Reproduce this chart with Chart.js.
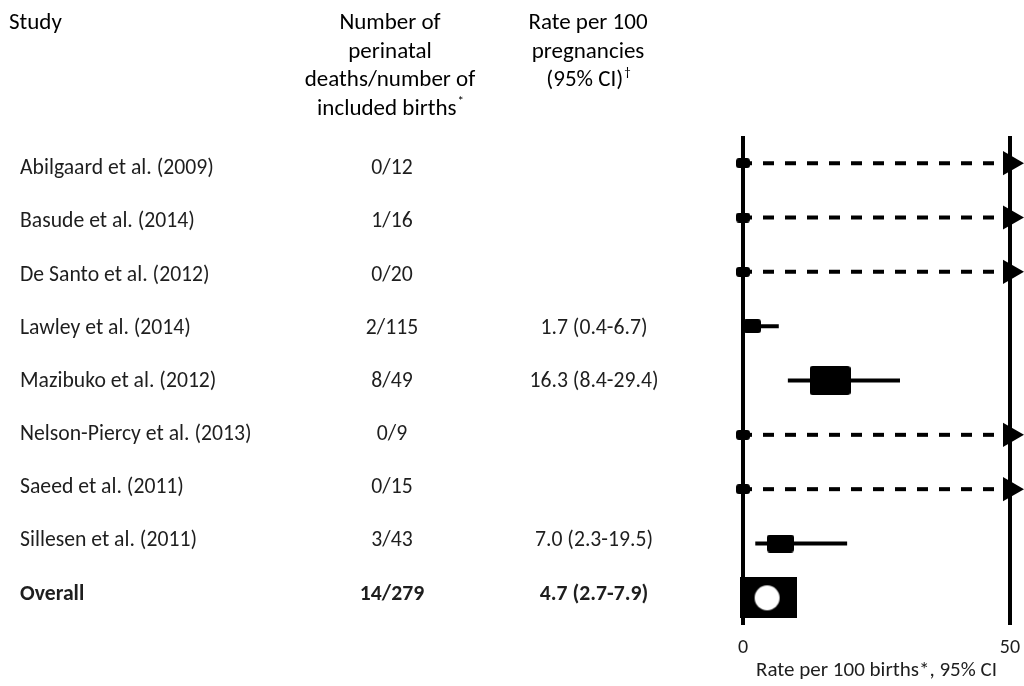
<!DOCTYPE html>
<html>
<head>
<meta charset="utf-8">
<script src="https://cdn.jsdelivr.net/npm/chart.js@4.4.1/dist/chart.umd.min.js"></script>
<style>
  html, body { margin: 0; padding: 0; background: #fff; }
  #wrap { width: 1024px; height: 686px; position: relative; }
</style>
</head>
<body>
<div id="wrap"><canvas id="forest"></canvas></div>
<script>
// ---- study data -------------------------------------------------------
const studies = [
  'Abilgaard et al. (2009)', 'Basude et al. (2014)', 'De Santo et al. (2012)',
  'Lawley et al. (2014)', 'Mazibuko et al. (2012)', 'Nelson-Piercy et al. (2013)',
  'Saeed et al. (2011)', 'Sillesen et al. (2011)', 'Overall'
];
const deaths = [0, 1, 0, 2, 8, 0, 0, 3, 14];
const births = [12, 16, 20, 115, 49, 9, 15, 43, 279];
// rate per 100 and its 95% CI; null rate = no estimate reported
const rate   = [null, null, null, 1.7, 16.3, null, null, 7.0, 4.7];
const ciLow  = [0, 0, 0, 0.4, 8.4, 0, 0, 2.3, 2.7];
// null upper bound = interval runs past the end of the axis
const ciHigh = [null, null, null, 6.7, 29.4, null, null, 19.5, 7.9];
const xTicks = [0, 50];
const axisTitle = 'Rate per 100 births*, 95% CI';
const overallIndex = studies.length - 1;

// ---- styling ----------------------------------------------------------
const FONT = 'Carlito, Lato, "Open Sans", sans-serif';
const INK = '#000';
const TEXT = '#1e1e1e';
const markerBox = { study: { 3: [18, 14], 4: [41, 29], 7: [27, 18] }, overall: [57, 41] };

function roundRectPath(c, x, y, w, h, r) {
  c.beginPath();
  c.moveTo(x + r, y);
  c.lineTo(x + w - r, y);
  c.quadraticCurveTo(x + w, y, x + w, y + r);
  c.lineTo(x + w, y + h - r);
  c.quadraticCurveTo(x + w, y + h, x + w - r, y + h);
  c.lineTo(x + r, y + h);
  c.quadraticCurveTo(x, y + h, x, y + h - r);
  c.lineTo(x, y + r);
  c.quadraticCurveTo(x, y, x + r, y);
  c.closePath();
}
function boxMarker(w, h, r) {
  const cv = document.createElement('canvas');
  cv.width = w; cv.height = h;
  const c = cv.getContext('2d');
  c.fillStyle = INK;
  roundRectPath(c, 0, 0, w, h, r);
  c.fill();
  return cv;
}
function overallMarker(w, h) {
  const cv = document.createElement('canvas');
  cv.width = w; cv.height = h;
  const c = cv.getContext('2d');
  c.fillStyle = INK;
  c.fillRect(0, 0, w, h);
  c.fillStyle = '#fff';
  c.beginPath();
  c.arc(w / 2 - 1, h / 2, 12.5, 0, Math.PI * 2);
  c.fill();
  return cv;
}
const startDot = boxMarker(14, 10, 3);

// ---- datasets ---------------------------------------------------------
const axisMax = xTicks[xTicks.length - 1];
const datasets = [];

// point estimates (boxes) drawn on top
const estPoints = [], estStyles = [];
rate.forEach((r, i) => {
  if (r === null) return;
  estPoints.push({ x: r, y: studies[i] });
  if (i === overallIndex) {
    estStyles.push(overallMarker(...markerBox.overall));
  } else {
    const [w, h] = markerBox.study[i];
    estStyles.push(boxMarker(w, h, 3));
  }
});
datasets.push({
  data: estPoints, showLine: false, clip: false, order: 0,
  pointStyle: estStyles, pointRadius: 10, pointBorderWidth: 0
});

// confidence intervals
studies.forEach((name, i) => {
  if (ciHigh[i] !== null) {
    datasets.push({
      data: [{ x: ciLow[i], y: name }, { x: ciHigh[i], y: name }],
      borderColor: INK, borderWidth: 4, borderCapStyle: 'butt',
      pointRadius: 0, clip: false, order: 1
    });
  } else {
    // interval open beyond the axis: dashed line ending in an arrow
    datasets.push({
      data: [{ x: ciLow[i], y: name }, { x: axisMax, y: name }],
      borderColor: INK, borderWidth: 4, borderDash: [11, 11], borderDashOffset: 2,
      borderCapStyle: 'butt', clip: false, order: 1,
      pointStyle: [startDot, 'triangle'],
      pointRadius: [5, 14],
      pointRotation: [0, 90],
      pointBackgroundColor: INK, pointBorderColor: INK, pointBorderWidth: 0
    });
  }
});

// ---- table text beside the plot ---------------------------------------
function withSup(c, text, sup, cx, base, size) {
  c.font = `${size}px ${FONT}`;
  const w1 = c.measureText(text).width;
  c.font = `${Math.round(size * 0.55)}px ${FONT}`;
  const w2 = c.measureText(sup).width;
  const x0 = cx - (w1 + w2) / 2;
  c.textAlign = 'left';
  c.font = `${size}px ${FONT}`;
  c.fillText(text, x0, base);
  c.font = `${Math.round(size * 0.55)}px ${FONT}`;
  c.fillText(sup, x0 + w1 + 1, base - size * 0.42);
}

const tablePlugin = {
  id: 'studyTable',
  afterDraw(chart) {
    const c = chart.ctx;
    const y = chart.scales.y;
    c.save();
    c.textBaseline = 'alphabetic';
    c.fillStyle = INK;

    const hs = 23;
    c.font = `${hs}px ${FONT}`;
    c.textAlign = 'left';
    c.fillText('Study', 9, 29);

    c.textAlign = 'center';
    const colN = 390, colR = 588;
    c.fillText('Number of', colN, 29);
    c.fillText('perinatal', colN, 57.5);
    c.fillText('deaths/number of', colN, 86);
    withSup(c, 'included births', '*', colN, 114.5, hs);

    c.textAlign = 'center';
    c.font = `${hs}px ${FONT}`;
    c.fillText('Rate per 100', colR, 29);
    c.fillText('pregnancies', colR, 57.5);
    withSup(c, '(95% CI)', '\u2020', colR, 86, hs);

    c.fillStyle = TEXT;
    studies.forEach((name, i) => {
      const base = y.getPixelForValue(i) + 11 - i * 1.15;
      const bold = i === overallIndex;
      c.font = `${bold ? 'bold ' : ''}21.7px ${FONT}`;
      c.textAlign = 'left';
      c.fillText(name, 20, base);
      c.textAlign = 'center';
      c.fillText(`${deaths[i]}/${births[i]}`, colN + 2, base);
      if (rate[i] !== null) {
        const label = `${rate[i].toFixed(1)} (${ciLow[i].toFixed(1)}-${ciHigh[i].toFixed(1)})`;
        c.fillText(label, colR + 6, base);
      }
    });
    c.restore();
  }
};

// ---- chart --------------------------------------------------------------
new Chart(document.getElementById('forest'), {
  type: 'line',
  data: { datasets },
  options: {
    responsive: true,
    maintainAspectRatio: false,
    animation: false,
    devicePixelRatio: 1,
    layout: { padding: { left: 743, right: 11, top: 136, bottom: 0 } },
    plugins: { legend: { display: false }, tooltip: { enabled: false } },
    scales: {
      x: {
        type: 'linear',
        min: xTicks[0],
        max: axisMax,
        afterBuildTicks: s => { s.ticks = xTicks.map(v => ({ value: v })); },
        afterFit: s => { s.height = 61; s.paddingLeft = 0; s.paddingRight = 0; },
        grid: { color: INK, lineWidth: 4, drawTicks: false },
        border: { display: false },
        ticks: { color: TEXT, font: { family: FONT, size: 20 }, padding: 11, maxRotation: 0 },
        title: {
          display: true, text: axisTitle, color: TEXT,
          font: { family: FONT, size: 21 }, padding: { top: 0, bottom: 3 }
        }
      },
      y: { type: 'category', labels: studies, offset: true, display: false }
    }
  },
  plugins: [tablePlugin]
});
</script>
</body>
</html>
